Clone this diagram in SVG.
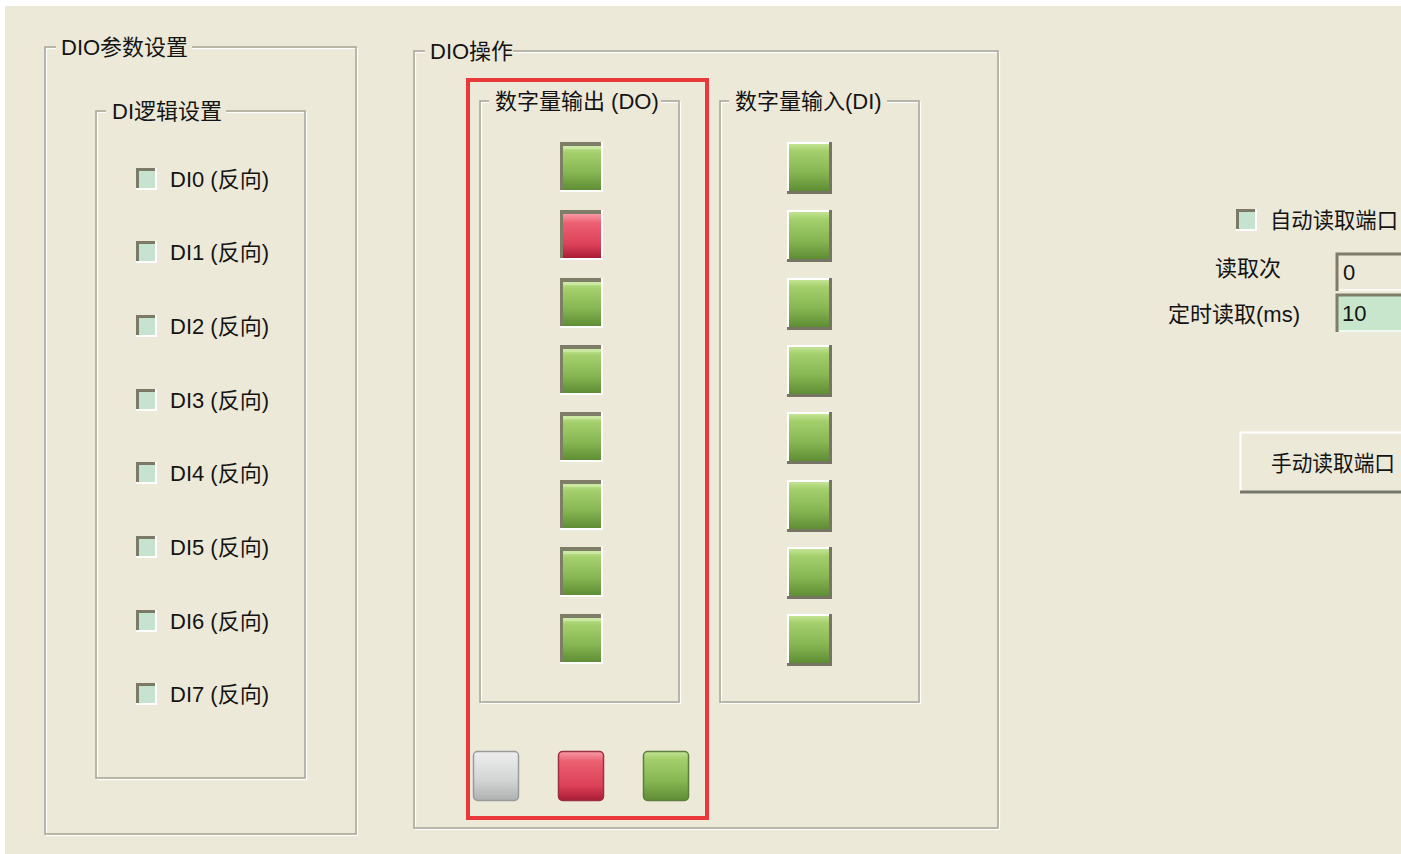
<svg xmlns="http://www.w3.org/2000/svg" width="1401" height="854" viewBox="0 0 1401 854">
<defs>
<style>
.t{font-family:'Liberation Sans','Noto Sans CJK SC',sans-serif;font-size:22px;fill:#141414}
.gb{fill:none;stroke:#a6a597;stroke-width:1.5}
.gw{fill:none;stroke:#ffffff;stroke-width:1.2}
.bg{fill:#ece9d8}
</style>
<linearGradient id="gGreen" x1="0" y1="0" x2="0" y2="1">
<stop offset="0" stop-color="#c3e494"/>
<stop offset="0.15" stop-color="#a4d06c"/>
<stop offset="0.6" stop-color="#86b752"/>
<stop offset="1" stop-color="#5f8d35"/>
</linearGradient>
<linearGradient id="gRed" x1="0" y1="0" x2="0" y2="1">
<stop offset="0" stop-color="#f89aa6"/>
<stop offset="0.2" stop-color="#ec6072"/>
<stop offset="0.7" stop-color="#dc4058"/>
<stop offset="1" stop-color="#a81c36"/>
</linearGradient>
<linearGradient id="gGray" x1="0" y1="0" x2="0" y2="1">
<stop offset="0" stop-color="#eeeeee"/>
<stop offset="0.6" stop-color="#d2d4d4"/>
<stop offset="1" stop-color="#aeb0b0"/>
</linearGradient>
<g id="doLed">
<rect x="0" y="0" width="43" height="50" fill="#ffffff"/>
<rect x="0" y="0" width="41" height="48" fill="#7e7d68"/>
<rect x="3" y="4" width="38" height="44" fill="url(#gGreen)"/>
<rect x="3" y="4" width="38" height="3" fill="#d2ecab" opacity="0.7"/>
</g>
<g id="diLed">
<rect x="0" y="0" width="45" height="52" fill="#767564"/>
<rect x="0" y="0" width="42" height="49" fill="#ffffff"/>
<rect x="2" y="2" width="40" height="47" fill="url(#gGreen)"/>
</g>
<g id="chk">
<rect x="0" y="0" width="21" height="22" fill="#ffffff"/>
<rect x="0" y="0" width="19" height="20" fill="#7a7a66"/>
<rect x="3" y="3" width="16" height="17" fill="#c6e3cf"/>
</g>
</defs>

<rect x="0" y="0" width="1401" height="854" fill="#ffffff"/>
<rect x="5" y="6" width="1396" height="848" class="bg"/>

<g id="group-dio-params">
<rect x="46.5" y="48.5" width="311" height="787" class="gw"/>
<rect x="45" y="47" width="311" height="787" class="gb"/>
<rect x="56" y="34" width="136" height="26" class="bg"/>
<text x="61" y="55" class="t">DIO参数设置</text>
</g>

<g id="group-di-logic">
<rect x="97.5" y="112.5" width="209" height="667" class="gw"/>
<rect x="96" y="111" width="209" height="667" class="gb"/>
<rect x="106" y="98" width="120" height="26" class="bg"/>
<text x="112" y="119" class="t">DI逻辑设置</text>
</g>

<g id="di-checkboxes">
<g id="chk-di0"><use href="#chk" x="136" y="168"/><text x="170" y="187" class="t">DI0 (反向)</text></g>
<g id="chk-di1"><use href="#chk" x="136" y="241"/><text x="170" y="260" class="t">DI1 (反向)</text></g>
<g id="chk-di2"><use href="#chk" x="136" y="315"/><text x="170" y="334" class="t">DI2 (反向)</text></g>
<g id="chk-di3"><use href="#chk" x="136" y="389"/><text x="170" y="408" class="t">DI3 (反向)</text></g>
<g id="chk-di4"><use href="#chk" x="136" y="462"/><text x="170" y="481" class="t">DI4 (反向)</text></g>
<g id="chk-di5"><use href="#chk" x="136" y="536"/><text x="170" y="555" class="t">DI5 (反向)</text></g>
<g id="chk-di6"><use href="#chk" x="136" y="610"/><text x="170" y="629" class="t">DI6 (反向)</text></g>
<g id="chk-di7"><use href="#chk" x="136" y="683"/><text x="170" y="702" class="t">DI7 (反向)</text></g>
</g>

<g id="group-dio-op">
<rect x="415.5" y="52.5" width="584" height="777" class="gw"/>
<rect x="414" y="51" width="584" height="777" class="gb"/>
<rect x="425" y="38" width="88" height="26" class="bg"/>
<text x="430" y="59" class="t">DIO操作</text>
</g>

<g id="group-do">
<rect x="481.5" y="102.5" width="199" height="601" class="gw"/>
<rect x="480" y="101" width="199" height="601" class="gb"/>
<rect x="489" y="88" width="172" height="26" class="bg"/>
<text x="495" y="109" class="t">数字量输出 (DO)</text>
<use href="#doLed" x="560" y="142"/>
<g transform="translate(560,210)">
<rect x="0" y="0" width="43" height="50" fill="#ffffff"/>
<rect x="0" y="0" width="41" height="48" fill="#7e7d68"/>
<rect x="3" y="4" width="38" height="44" fill="url(#gRed)"/>
</g>
<use href="#doLed" x="560" y="278"/>
<use href="#doLed" x="560" y="345"/>
<use href="#doLed" x="560" y="412"/>
<use href="#doLed" x="560" y="480"/>
<use href="#doLed" x="560" y="547"/>
<use href="#doLed" x="560" y="614"/>
</g>

<g id="group-di">
<rect x="721.5" y="102.5" width="199" height="601" class="gw"/>
<rect x="720" y="101" width="199" height="601" class="gb"/>
<rect x="729" y="88" width="158" height="26" class="bg"/>
<text x="735" y="109" class="t">数字量输入(DI)</text>
<use href="#diLed" x="787" y="142"/>
<use href="#diLed" x="787" y="210"/>
<use href="#diLed" x="787" y="278"/>
<use href="#diLed" x="787" y="345"/>
<use href="#diLed" x="787" y="412"/>
<use href="#diLed" x="787" y="480"/>
<use href="#diLed" x="787" y="547"/>
<use href="#diLed" x="787" y="614"/>
</g>

<g id="legend-leds">
<rect x="473.5" y="751.5" width="45" height="49" rx="4" fill="url(#gGray)" stroke="#9a9c9c" stroke-width="1.5"/>
<rect x="558.5" y="751.5" width="45" height="49" rx="4" fill="url(#gRed)" stroke="#9a3040" stroke-width="1.5"/>
<rect x="643.5" y="751.5" width="45" height="49" rx="4" fill="url(#gGreen)" stroke="#5e7e40" stroke-width="1.5"/>
</g>

<g id="highlight-box">
<rect x="468" y="80" width="239" height="738" fill="none" stroke="#e8383a" stroke-width="4"/>
</g>

<g id="auto-read">
<use href="#chk" x="1236" y="209"/>
<text x="1270" y="228" class="t" textLength="128" lengthAdjust="spacingAndGlyphs">自动读取端口</text>
</g>

<g id="read-count">
<text x="1215" y="276" class="t">读取次</text>
<rect x="1337" y="254" width="64" height="37" fill="#ece9d8"/>
<path d="M1337,291 V254 H1401" fill="none" stroke="#7e7d6a" stroke-width="3"/>
<path d="M1339,290 H1401" fill="none" stroke="#ffffff" stroke-width="1.5"/>
<text x="1343" y="280" class="t">0</text>
</g>

<g id="timer-read">
<text x="1168" y="322" class="t">定时读取(ms)</text>
<rect x="1337" y="295" width="64" height="37" fill="#c8e6cc"/>
<path d="M1337,332 V295 H1401" fill="none" stroke="#7e7d6a" stroke-width="3"/>
<path d="M1339,331 H1401" fill="none" stroke="#ffffff" stroke-width="1.5"/>
<text x="1342" y="321" class="t">10</text>
</g>

<g id="manual-read-btn">
<rect x="1240" y="432" width="161" height="61" fill="#ece9d8"/>
<path d="M1240.5,493 V432.5 H1401" fill="none" stroke="#ffffff" stroke-width="2"/>
<path d="M1240,492 H1401" fill="none" stroke="#76766a" stroke-width="3"/>
<text x="1271" y="471" class="t" textLength="124" lengthAdjust="spacingAndGlyphs">手动读取端口</text>
</g>
</svg>
